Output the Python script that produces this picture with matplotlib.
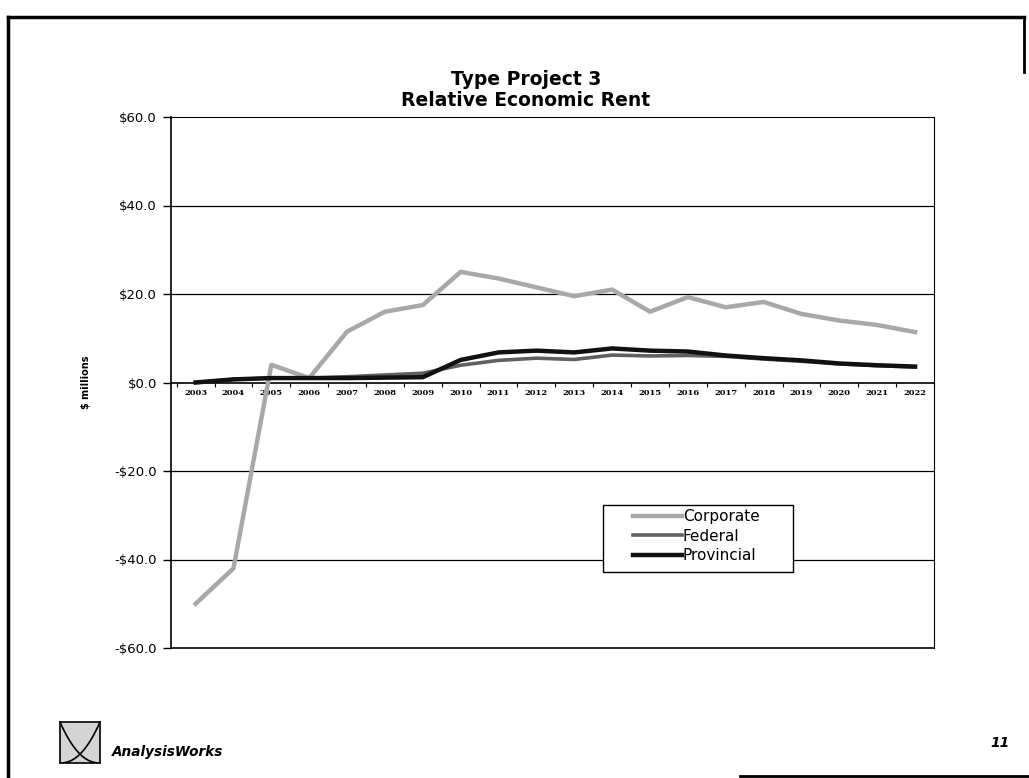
import matplotlib
matplotlib.use("Agg")
import matplotlib.pyplot as plt
from matplotlib.patches import Rectangle
import numpy as np

years = [str(y) for y in range(2003, 2023)]
corporate = [-50, -42, 4, 1, 11.5, 16, 17.5, 25, 23.5, 21.5, 19.5, 21, 16, 19.3, 17, 18.2, 15.5, 14, 13, 11.4]
federal = [0, 0.7, 1, 1, 1.3, 1.7, 2.1, 3.9, 5, 5.5, 5.2, 6.2, 6, 6.1, 5.9, 5.3, 4.8, 4.2, 3.8, 3.5]
provincial = [0, 0.7, 1, 1, 1.0, 1.1, 1.2, 5.1, 6.8, 7.2, 6.8, 7.7, 7.2, 7.0, 6.1, 5.5, 5.0, 4.3, 3.9, 3.6]
yticks = [-60, -40, -20, 0, 20, 40, 60]
ytick_labels = ["-$60.0", "-$40.0", "-$20.0", "$0.0", "$20.0", "$40.0", "$60.0"]
series_names = ["Corporate", "Federal", "Provincial"]
title = "Type Project 3\nRelative Economic Rent"

plt.rcParams['font.family'] = ['DejaVu Sans']

W, H = 1029, 778
fig = plt.figure(figsize=(W / 100, H / 100), dpi=100)
fig.patch.set_facecolor("white")

def fx(px):
    return px / W

def fy(py):
    return 1 - py / H

# page border lines (scanned slide frame)
border = fig.add_axes([0, 0, 1, 1], facecolor="none")
border.set_xlim(0, W)
border.set_ylim(H, 0)
border.axis("off")
border.plot([8, 1024], [17, 17], color="black", lw=2.5)
border.plot([8, 8], [17, 778], color="black", lw=2.5)
border.plot([1024, 1024], [17, 72], color="black", lw=2)
border.plot([740, 1029], [776, 776], color="black", lw=2)

ax = fig.add_axes([fx(171), fy(648), fx(934 - 171), (648 - 117) / H])
x = np.arange(len(years))
ax.set_xlim(-0.65, len(years) - 0.65)
ax.set_ylim(-60, 60)

# gridlines
for v in [-40, -20, 20, 40]:
    ax.axhline(v, color="black", lw=0.9, zorder=1)
ax.axhline(-60, color="black", lw=1.2, zorder=1, clip_on=False)

for s in ["top", "right"]:
    ax.spines[s].set_linestyle((0, (1, 1)))
    ax.spines[s].set_linewidth(0.8)
ax.spines["left"].set_linewidth(1.2)
ax.spines["bottom"].set_position(("data", 0))
ax.spines["bottom"].set_linewidth(1.2)

ax.plot(x, corporate, color="#a8a8a8", lw=3.2, zorder=3, label=series_names[0])
ax.plot(x, federal, color="#606060", lw=2.6, zorder=4, label=series_names[1])
ax.plot(x, provincial, color="#111111", lw=3.2, zorder=5, label=series_names[2])

ax.set_yticks(yticks)
ax.set_yticklabels(ytick_labels, fontsize=9.5)
ax.tick_params(axis="y", direction="out", length=6, width=1, pad=4)

ax.set_xticks(x)
ax.set_xticklabels(years, fontsize=6, family="DejaVu Serif", fontweight="bold")
ax.set_xticks(np.arange(len(years) + 1) - 0.5, minor=True)
ax.tick_params(axis="x", which="major", length=0, pad=5)
ax.tick_params(axis="x", which="minor", direction="out", length=3, width=0.8)

ax.set_ylabel("$ millions", fontsize=7, fontweight="bold")
ax.yaxis.set_label_coords((91 - 171) / 763, 0.5)

fig.text(fx(526), fy(90), title, ha="center", va="center", fontsize=13.5,
         fontweight="bold", linespacing=1.1)

# legend box (Excel-style, wide padding)
ax.add_patch(Rectangle((fx(603), fy(572)), fx(190), 67 / H, transform=fig.transFigure,
                       facecolor="white", edgecolor="black", lw=1.0, zorder=6,
                       clip_on=False))
leg = ax.legend(loc="upper left", bbox_to_anchor=(fx(633), fy(509)),
                bbox_transform=fig.transFigure, fontsize=11, frameon=False,
                handlelength=3.2, handletextpad=0.05, borderpad=0,
                labelspacing=0.3, borderaxespad=0)
leg.set_zorder(7)

# logo
logo = fig.add_axes([fx(60), fy(763), fx(40), 41 / H])
logo.set_xlim(0, 1)
logo.set_ylim(0, 1)
logo.set_xticks([])
logo.set_yticks([])
logo.set_facecolor("#d4d4d4")
for s in logo.spines.values():
    s.set_linewidth(1.2)
t = np.linspace(0, 1, 50)
logo.plot(t, (1 - t) ** 2.2, color="black", lw=1.2)
logo.plot(t, t ** 2.2, color="black", lw=1.2)
fig.text(fx(112), fy(752), "AnalysisWorks", fontsize=9.8, fontstyle="italic",
         fontweight="bold", va="center", ha="left")
fig.text(fx(1000), fy(743), "11", fontsize=10, fontstyle="italic",
         fontweight="bold", va="center", ha="center")

fig.savefig("out.png", dpi=100)
